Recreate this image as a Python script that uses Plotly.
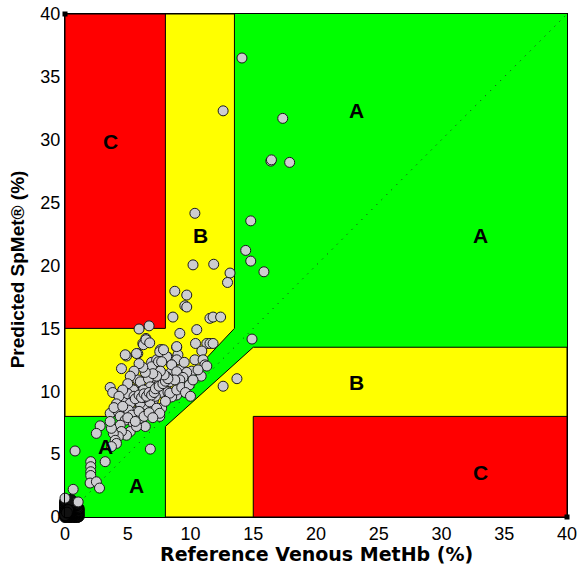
import plotly.graph_objects as go

# ---- Data ----
ref_x = [
    14.1, 12.6, 17.35, 16.4, 16.45, 17.9, 10.35, 14.8, 14.4, 14.8, 15.85, 10.2, 11.85, 13.15, 12.95,
    8.75, 9.7, 9.55, 8.6, 6.7, 5.9, 11.55, 11.8, 12.4, 9.15, 10.5, 14.9, 13.7, 12.6,
    10.4, 11.3, 11.55, 11.8, 10.9, 10.35, 11.0, 11.15, 11.3, 10.1, 10.85,
    6.8, 0.8,
    6.45, 6.6, 6.2, 8.9, 5.8, 4.9, 7.7, 7.8, 7.4, 8.2, 9.0, 8.9, 6.9, 6.8, 6.6, 4.5, 8.5, 8.4,
    9.2, 9.0, 5.8, 6.1, 7.3, 7.6, 7.0, 3.6, 3.8, 5.3, 5.7, 6.2, 8.2, 8.35, 8.75, 9.7,
    7.6, 7.7, 8.1, 7.3, 6.9, 6.8, 8.5, 8.9, 9.4, 9.15, 8.1, 8.35, 8.75, 8.9, 8.5, 8.35, 8.9,
    7.45, 7.55, 7.7, 7.55, 6.9, 7.05, 6.9,
    9.7, 4.8, 5.7, 6.25, 6.45, 6.75, 7.55, 7.85, 7.45, 7.7, 8.9,
    6.0, 6.65, 6.65, 6.8, 6.25, 5.45, 5.7, 5.3, 4.8, 4.5, 4.65, 5.2, 5.6, 6.0, 6.5, 7.05,
    4.8, 5.2, 6.0, 6.75, 7.3, 7.55, 3.6, 4.25, 4.4, 5.05, 5.3, 4.8, 5.45, 5.2, 4.9, 4.4, 4.5,
    4.25, 3.85, 4.0, 4.1, 3.7, 3.6, 3.7, 6.4, 6.0, 5.7, 2.8, 2.5,
    3.2, 2.05, 2.05, 2.05, 2.05, 2.0, 2.5, 2.75, 0.65, 0.0, 1.05,
    9.3, 9.9, 10.2, 9.6, 10.0, 10.6, 9.5, 8.0, 7.2, 5.0, 6.3, 7.9,
    5.5, 5.6, 5.9, 6.1, 6.3, 6.5, 6.7, 6.9, 7.1, 7.2, 7.5, 7.8, 8.0, 8.2, 7.9, 7.6, 7.3, 7.0,
    6.4, 6.2, 5.9, 5.5, 5.2, 5.0, 4.6, 4.3, 4.1, 3.9, 4.6, 5.9, 6.3, 6.7, 7.0, 5.0, 5.6,
]
pred_y = [
    36.5, 32.3, 31.7, 28.3, 28.4, 28.2, 24.15, 23.55, 21.2, 20.35, 19.5, 20.05, 20.1, 19.4, 18.65,
    17.95, 17.65, 16.8, 15.9, 15.2, 14.95, 15.8, 15.9, 15.9, 14.6, 14.9, 14.15, 11.0, 10.4,
    13.8, 13.8, 13.8, 13.8, 13.2, 12.5, 12.5, 12.1, 12.0, 11.6, 11.2,
    5.4, 5.25,
    14.2, 13.9, 13.8, 13.5, 13.0, 12.8, 13.3, 13.0, 12.5, 12.7, 12.9, 12.5, 12.3, 11.8, 11.1, 11.8, 12.1, 11.45,
    11.7, 11.05, 10.9, 10.3, 10.65, 9.9, 10.1, 10.3, 9.9, 10.2, 9.9, 10.1, 9.95, 9.55, 9.7, 11.5,
    13.3, 13.0, 12.75, 12.5, 11.95, 10.9, 12.1, 11.55, 11.1, 10.9, 11.15, 10.75, 10.9, 9.7, 9.55, 9.85, 10.1,
    8.65, 8.5, 8.65, 8.0, 10.35, 9.3, 8.75,
    16.7, 12.9, 13.0, 13.7, 14.1, 13.85, 13.15, 13.3, 12.35, 12.35, 13.55,
    10.75, 11.0, 10.2, 10.35, 10.1, 10.1, 9.55, 9.3, 9.3, 9.15, 8.5, 8.5, 8.35, 8.75, 8.9, 8.5,
    9.15, 9.05, 9.05, 9.15, 8.65, 8.25, 8.25, 8.35, 8.0, 8.5, 8.1, 7.7, 7.45, 6.8, 6.5, 7.3, 6.8,
    6.4, 6.65, 6.1, 5.85, 7.05, 7.6, 5.6, 7.2, 7.85, 7.2, 7.25, 6.65,
    4.4, 4.4, 4.0, 3.6, 3.3, 2.7, 2.8, 2.3, 2.2, 1.5, 1.2,
    10.3, 10.5, 10.9, 9.9, 9.6, 11.7, 12.3, 9.2, 9.6, 9.8, 9.5, 11.0,
    9.6, 9.4, 9.7, 9.5, 9.8, 9.6, 9.9, 9.7, 9.9, 10.2, 10.4, 10.6, 10.8, 11.0, 11.3, 11.6, 11.2, 11.4,
    11.5, 11.9, 12.2, 11.6, 11.2, 10.6, 10.1, 9.6, 9.0, 8.7, 8.8, 8.4, 8.0, 8.3, 7.9, 7.9, 7.6,
]

# near-zero readings (heavily overplotted cluster at the origin)
low_x = [
    0.0, 0.1, 0.2, 0.3, 0.4, 0.5, 0.6, 0.7, 0.8, 0.9, 1.0, 1.1,
    0.05, 0.15, 0.25, 0.35, 0.45, 0.55, 0.65, 0.75, 0.85, 0.95, 1.05,
    0.0, 0.1, 0.2, 0.3, 0.4, 0.5, 0.6, 0.7, 0.8, 0.9, 1.0, 1.1,
    0.05, 0.15, 0.25, 0.35, 0.45, 0.55, 0.65, 0.75, 0.85, 0.95, 1.05,
    0.0, 0.1, 0.2, 0.3, 0.4, 0.5, 0.6, 0.7, 0.8, 0.9, 1.0, 1.1,
    0.05, 0.15, 0.25, 0.35, 0.45, 0.55, 0.65, 0.75, 0.85, 0.95, 1.05,
    0.0, 0.1, 0.2, 0.3, 0.4, 0.5, 0.6, 0.7, 0.8, 0.9, 1.0, 1.1,
    0.05, 0.15, 0.25, 0.35, 0.45, 0.55, 0.65, 0.75, 0.85, 0.95, 1.05,
    0.0, 0.1, 0.2, 0.3, 0.4, 0.5, 0.6, 0.7, 0.8, 0.9, 1.0,
    0.05, 0.15, 0.25, 0.35, 0.45, 0.55, 0.65, 0.75, 0.85, 0.95,
    0.0, 0.1, 0.2, 0.3, 0.4, 0.5, 0.6, 0.7, 0.8, 0.9,
    0.05, 0.15, 0.25, 0.35, 0.45, 0.55, 0.65, 0.75,
    0.0, 0.1, 0.2, 0.3, 0.4, 0.5, 0.6,
    0.05, 0.2, 0.35, 0.5, 0.1, 0.25, 0.0, 0.15,
]
low_y = [
    0.0, 0.05, 0.0, 0.05, 0.0, 0.05, 0.0, 0.05, 0.0, 0.05, 0.0, 0.05,
    0.1, 0.15, 0.1, 0.15, 0.1, 0.15, 0.1, 0.15, 0.1, 0.15, 0.1,
    0.2, 0.25, 0.2, 0.25, 0.2, 0.25, 0.2, 0.25, 0.2, 0.25, 0.2, 0.25,
    0.3, 0.35, 0.3, 0.35, 0.3, 0.35, 0.3, 0.35, 0.3, 0.35, 0.3,
    0.4, 0.45, 0.4, 0.45, 0.4, 0.45, 0.4, 0.45, 0.4, 0.45, 0.4, 0.45,
    0.5, 0.55, 0.5, 0.55, 0.5, 0.55, 0.5, 0.55, 0.5, 0.55, 0.5,
    0.6, 0.65, 0.6, 0.65, 0.6, 0.65, 0.6, 0.65, 0.6, 0.65, 0.6, 0.65,
    0.7, 0.75, 0.7, 0.75, 0.7, 0.75, 0.7, 0.75, 0.7, 0.75, 0.7,
    0.8, 0.85, 0.8, 0.85, 0.8, 0.85, 0.8, 0.85, 0.8, 0.85, 0.8,
    0.9, 0.95, 0.9, 0.95, 0.9, 0.95, 0.9, 0.95, 0.9, 0.95,
    1.0, 1.05, 1.0, 1.05, 1.0, 1.05, 1.0, 1.05, 1.0, 1.05,
    1.1, 1.15, 1.1, 1.15, 1.1, 1.15, 1.1, 1.15,
    1.2, 1.25, 1.2, 1.25, 1.2, 1.25, 1.2,
    1.3, 1.35, 1.3, 1.35, 0.45, 0.55, 0.15, 0.35,
]

# Zone polygons (data coordinates) and labels
zone_yellow_upper_x = [0, 6.9, 13.5, 13.5, 0]
zone_yellow_upper_y = [8, 8, 15, 40, 40]
zone_yellow_lower_x = [8, 8, 15, 40, 40]
zone_yellow_lower_y = [0, 7.2, 13.5, 13.5, 0]
zone_red_upper_x = [0, 8, 8, 0]
zone_red_upper_y = [15, 15, 40, 40]
zone_red_lower_x = [15, 40, 40, 15]
zone_red_lower_y = [0, 0, 8, 8]

label_text = ["C", "B", "A", "A", "B", "C", "A", "A"]
label_x = [3.6, 10.8, 23.2, 33.1, 23.2, 33.1, 3.2, 5.7]
label_y = [29.9, 22.4, 32.3, 22.4, 10.7, 3.5, 5.6, 2.5]

x_ticks = [0, 5, 10, 15, 20, 25, 30, 35, 40]
y_ticks = [0, 5, 10, 15, 20, 25, 30, 35, 40]
x_title = "Reference Venous MetHb (%)"
y_title = "Predicted SpMet® (%)"

GREEN = "#00ff00"
YELLOW = "#ffff00"
RED = "#ff0000"
FONT = "Liberation Sans, Arial, sans-serif"


def path(xs, ys):
    s = "M %g,%g " % (xs[0], ys[0])
    for a, b in zip(xs[1:], ys[1:]):
        s += "L %g,%g " % (a, b)
    return s + "Z"


shapes = [
    dict(type="rect", xref="x", yref="y", x0=0, y0=0, x1=40, y1=40,
         fillcolor=GREEN, line=dict(width=0), layer="below"),
]
for xs, ys, col in [
    (zone_yellow_upper_x, zone_yellow_upper_y, YELLOW),
    (zone_yellow_lower_x, zone_yellow_lower_y, YELLOW),
    (zone_red_upper_x, zone_red_upper_y, RED),
    (zone_red_lower_x, zone_red_lower_y, RED),
]:
    shapes.append(dict(type="path", xref="x", yref="y", path=path(xs, ys),
                       fillcolor=col, line=dict(color="black", width=1), layer="below"))

fig = go.Figure()

# identity line
fig.add_trace(go.Scatter(x=[0, 40], y=[0, 40], mode="lines",
                         line=dict(color="#222222", width=1, dash="1px,6px"),
                         hoverinfo="skip", showlegend=False))

# overplotted origin cluster renders as a solid dark blob
fig.add_trace(go.Scatter(x=low_x, y=low_y, mode="markers",
                         marker=dict(size=11, color="#111111", line=dict(color="#000000", width=1)),
                         showlegend=False, cliponaxis=False))
fig.add_trace(go.Scatter(x=ref_x, y=pred_y, mode="markers",
                         marker=dict(size=10, color="#cdcdd0", line=dict(color="#1a1a1a", width=1)),
                         showlegend=False, cliponaxis=False))

# small corner squares
fig.add_trace(go.Scatter(x=[0, 40], y=[40, 0], mode="markers",
                         marker=dict(symbol="square", size=5, color="black"),
                         showlegend=False, cliponaxis=False))

for t, xx, yy in zip(label_text, label_x, label_y):
    fig.add_annotation(x=xx, y=yy, text="<b>%s</b>" % t, showarrow=False,
                       font=dict(size=21, color="black", family=FONT))

# axis titles as annotations (precise placement)
fig.add_annotation(xref="paper", yref="paper", x=0.5, y=-0.074, xanchor="center", yanchor="middle",
                   text="<b>%s</b>" % x_title, showarrow=False,
                   font=dict(size=19, color="black", family="DejaVu Sans, sans-serif"))
fig.add_annotation(xref="paper", yref="paper", x=-0.094, y=0.492, xanchor="center", yanchor="middle",
                   text="<b>%s</b>" % y_title, showarrow=False, textangle=-90,
                   font=dict(size=19, color="black", family=FONT))

axis_common = dict(
    range=[0, 40], showgrid=False, zeroline=False, showline=True, mirror=True,
    linecolor="black", linewidth=1, ticks="", automargin=False,
    ticklabeloverflow="allow",
    tickfont=dict(size=18, color="black", family=FONT),
)

fig.update_layout(
    width=579, height=569,
    margin=dict(l=65, r=12, t=14, b=52, autoexpand=False),
    paper_bgcolor="white", plot_bgcolor="white",
    shapes=shapes,
    xaxis=dict(**axis_common, tickvals=x_ticks),
    yaxis=dict(**axis_common, tickvals=y_ticks),
    font=dict(family=FONT, color="black"),
)

# remove the browser's default 8px body margin so the figure fills the window exactly
fig.write_html("out.html", config={"displayModeBar": False},
               post_script="document.body.style.margin='0';")
